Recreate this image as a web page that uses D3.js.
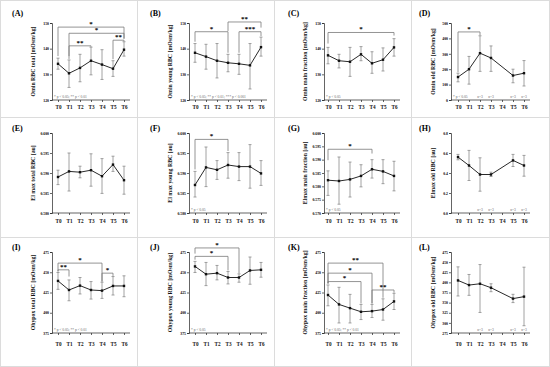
<!DOCTYPE html>
<html>
<head>
<meta charset="utf-8">
<script src="https://cdn.jsdelivr.net/npm/d3@7.9.0/dist/d3.min.js"></script>
<style>
  body { margin: 0; background: #fff; }
  svg { display: block; }
  text { font-family: "Liberation Serif", "DejaVu Serif", serif; }
</style>
</head>
<body>
<svg id="chart" width="550" height="367"></svg>
<script>
const times = ['T0', 'T1', 'T2', 'T3', 'T4', 'T5', 'T6'];

// (A) Omin total RBC
const aMean = [134.1, 130.4, 132.5, 135.3, 133.8, 132.2, 139.6];
const aHigh = [136.3, 135.6, 137.8, 140.6, 139.6, 135.3, 142.7];
const aLow  = [132.0, 124.9, 127.1, 129.8, 128.0, 129.2, 137.1];
// [from, to, bracket level, left leg end, right leg end, stars]
const aSig = [[0, 6, 148.4, 137.1, 143.9, '*'], [1, 6, 146.0, 137.1, 143.9, '*'], [1, 3, 141.1, 136.0, 140.8, '**'], [5, 6, 143.3, 135.9, 142.9, '**']];

// (B) Omin young RBC
const bMean = [138.4, 136.9, 135.3, 134.5, 134.1, 133.5, 140.6];
const bHigh = [142.0, 141.7, 142.0, 137.8, 137.8, 142.0, 144.5];
const bLow  = [134.7, 132.0, 128.6, 131.0, 130.0, 124.3, 137.1];
const bSig = [[0, 3, 146.6, 142.7, 138.4, '*'], [3, 6, 150.4, 146.9, 148.2, '**'], [4, 6, 146.6, 138.4, 144.9, '***']];

// (C) Omin main fraction
const cMean = [137.4, 135.3, 134.9, 137.8, 134.3, 135.7, 140.5];
const cHigh = [140.5, 137.8, 140.5, 140.8, 138.8, 140.3, 143.9];
const cLow  = [134.1, 132.5, 129.2, 135.3, 130.4, 131.3, 137.1];
const cSig = [[0, 6, 146.3, 142.0, 145.1, '*']];

// (D) Omin old RBC
const dMean = [149, 200, 304, 273, null, 159, 174];
const dHigh = [174, 283, 417, 351, null, 200, 256];
const dLow  = [118, 103, 186, 186, null, 112, 91];
const dSig = [[0, 2, 442, 180, 421, '*']];

// (E) El max total RBC
const eMean = [0.5890, 0.5904, 0.5902, 0.5907, 0.5892, 0.5921, 0.5882];
const eHigh = [0.5907, 0.5950, 0.5917, 0.5948, 0.5936, 0.5942, 0.5917];
const eLow  = [0.5871, 0.5855, 0.5888, 0.5867, 0.5849, 0.5904, 0.5847];

// (F) El max young RBC
const fMean = [0.5870, 0.5914, 0.5908, 0.5920, 0.5916, 0.5916, 0.5899];
const fHigh = [0.5904, 0.5965, 0.5931, 0.5951, 0.5951, 0.5971, 0.5931];
const fLow  = [0.5840, 0.5866, 0.5884, 0.5887, 0.5881, 0.5862, 0.5869];
const fSig = [[0, 3, 0.5984, 0.5909, 0.5955, '*']];

// (G) Elmax main fraction
const gMean = [0.5823, 0.5820, 0.5826, 0.5839, 0.5864, 0.5856, 0.5839];
const gHigh = [0.5858, 0.5910, 0.5891, 0.5881, 0.5900, 0.5900, 0.5894];
const gLow  = [0.5766, 0.5733, 0.5760, 0.5798, 0.5831, 0.5810, 0.5783];
const gSig = [[0, 4, 0.5939, 0.5898, 0.5923, '*']];

// (H) Elmax old RBC
const hMean = [0.559, 0.475, 0.385, 0.385, null, 0.526, 0.475];
const hHigh = [0.586, 0.626, 0.552, 0.408, null, 0.586, 0.576];
const hLow  = [0.532, 0.325, 0.218, 0.365, null, 0.465, 0.368];

// (I) Ohypox total RBC
const iMean = [439.3, 428.1, 433.5, 428.1, 427.3, 433.1, 433.1];
const iHigh = [449.7, 440.5, 443.5, 438.5, 437.7, 444.7, 445.6];
const iLow  = [428.9, 414.8, 423.2, 416.9, 417.7, 421.9, 419.8];
const iSig = [[0, 1, 453, 451, 444.7, '**'], [0, 4, 461.3, 451, 438.5, '*'], [4, 5, 448.9, 438.5, 445.5, '*']];

// (J) Ohypox young RBC
const jMean = [457.2, 447.6, 448.9, 443.5, 443.5, 452.2, 453.0];
const jHigh = [463.4, 462.1, 458.4, 450.9, 448.0, 468.8, 462.1];
const jLow  = [449.7, 433.5, 440.6, 435.6, 437.7, 435.2, 443.9];
const jSig = [[0, 3, 469.6, 465.5, 452.2, '*'], [0, 4, 480, 473, 448.9, '*']];

// (K) Ohypox main fraction
const kMean = [421.9, 410.3, 405.7, 401.2, 402.0, 404.0, 414.0];
const kHigh = [434.3, 431.4, 422.7, 410.3, 410.3, 417.2, 424.0];
const kLow  = [408.6, 387.4, 387.4, 391.6, 394.1, 390.8, 404.0];
const kSig = [[0, 3, 438.5, 435.6, 411.5, '*'], [0, 4, 448.9, 436.5, 411.5, '*'], [0, 5, 461.3, 436.5, 418.5, '**'], [4, 6, 428.1, 411.5, 424.8, '**']];

// (L) Ohypox old RBC
const lMean = [404.8, 393.4, 396.6, 386.8, null, 359.9, 364.8];
const lHigh = [438.3, 419.5, 444.0, 396.6, null, 370.5, 437.5];
const lLow  = [366.4, 368.0, 325.7, 377.0, null, 350.1, 293.0];

const oldN = ['', '', 'n=3', 'n=3', '', 'n=3', 'n=3'];

const omTicks = [120, 130, 140, 150];
const elTicks = [0.580, 0.585, 0.590, 0.595, 0.600];
const el2Ticks = [0.570, 0.575, 0.580, 0.585, 0.590, 0.595, 0.600];
const ohTicks = [375, 400, 425, 450, 475];

const note1 = '* p < 0.05';
const note2 = '* p < 0.05; ** p < 0.01';
const note3 = '* p < 0.05; ** p < 0.01; *** p < 0.001';

const panels = [
  { id: '(A)', title: 'Omin RBC total [mOsm/kg]', ticks: omTicks, fmt: 'd', mean: aMean, high: aHigh, low: aLow, sig: aSig, note: note2 },
  { id: '(B)', title: 'Omin young RBC [mOsm/kg]', ticks: omTicks, fmt: 'd', mean: bMean, high: bHigh, low: bLow, sig: bSig, note: note3 },
  { id: '(C)', title: 'Omin main fraction [mOsm/kg]', ticks: omTicks, fmt: 'd', mean: cMean, high: cHigh, low: cLow, sig: cSig, note: note1 },
  { id: '(D)', title: 'Omin old RBC [mOsm/kg]', ticks: [0, 100, 200, 300, 400, 500], fmt: 'd', mean: dMean, high: dHigh, low: dLow, sig: dSig, note: note1, n: oldN },
  { id: '(E)', title: 'El max total RBC [au]', ticks: elTicks, fmt: '.3f', mean: eMean, high: eHigh, low: eLow, sig: [], note: '' },
  { id: '(F)', title: 'El max young RBC [au]', ticks: elTicks, fmt: '.3f', mean: fMean, high: fHigh, low: fLow, sig: fSig, note: note1 },
  { id: '(G)', title: 'Elmax main fraction [au]', ticks: el2Ticks, fmt: '.3f', mean: gMean, high: gHigh, low: gLow, sig: gSig, note: note1 },
  { id: '(H)', title: 'Elmax old RBC [au]', ticks: [0, 0.2, 0.4, 0.6, 0.8], fmt: '.1f', mean: hMean, high: hHigh, low: hLow, sig: [], note: '', n: oldN },
  { id: '(I)', title: 'Ohypox total RBC [mOsm/kg]', ticks: ohTicks, fmt: 'd', mean: iMean, high: iHigh, low: iLow, sig: iSig, note: note2 },
  { id: '(J)', title: 'Ohypox young RBC [mOsm/kg]', ticks: ohTicks, fmt: 'd', mean: jMean, high: jHigh, low: jLow, sig: jSig, note: note1 },
  { id: '(K)', title: 'Ohypox main fraction [mOsm/kg]', ticks: ohTicks, fmt: 'd', mean: kMean, high: kHigh, low: kLow, sig: kSig, note: note2 },
  { id: '(L)', title: 'Ohypox old RBC [mOsm/kg]', ticks: d3.range(275, 476, 25), fmt: 'd', mean: lMean, high: lHigh, low: lLow, sig: [], note: '', n: oldN }
];

const svg = d3.select('#chart');

// cell frames
const colX = [0, 137, 274, 411, 550];
const rowY = [0, 117, 237, 367];
colX.forEach((cx) => {
  svg.append('line').attr('x1', Math.min(cx, 549) + 0.5).attr('x2', Math.min(cx, 549) + 0.5)
    .attr('y1', 0).attr('y2', 367).attr('stroke', '#dcdcdc').attr('stroke-width', 1);
});
rowY.forEach((ry) => {
  svg.append('line').attr('y1', Math.min(ry, 366) + 0.5).attr('y2', Math.min(ry, 366) + 0.5)
    .attr('x1', 0).attr('x2', 550).attr('stroke', '#dcdcdc').attr('stroke-width', 1);
});

// per column / row placement inside a cell
const colLayout = [
  { axis: 52, x0: 58, x1: 124, title: 35, label: 12 },
  { axis: 52, x0: 58, x1: 124, title: 35, label: 13 },
  { axis: 50, x0: 54, x1: 120, title: 33, label: 14 },
  { axis: 40, x0: 47, x1: 113, title: 24, label: 8 }
];
const rowLayout = [
  { top: 23, bottom: 100, tlab: 109, plab: 16 },
  { top: 16, bottom: 96, tlab: 106, plab: 14 },
  { top: 15, bottom: 96, tlab: 109, plab: 13 }
];

panels.forEach((p, k) => {
  const c = k % 4, r = Math.floor(k / 4);
  const L = colLayout[c], R = rowLayout[r];
  const g = svg.append('g').attr('transform', `translate(${colX[c]},${rowY[r]})`);

  let x = d3.scalePoint().domain(times).range([L.x0, L.x1]);
  let y = d3.scaleLinear().domain(d3.extent(p.ticks)).range([R.bottom, R.top]);

  // panel letter
  g.append('text').attr('x', L.label).attr('y', R.plab)
    .attr('font-size', 8).attr('font-weight', 'bold').text(p.id);

  // y axis
  const ya = g.append('g').attr('transform', `translate(${L.axis},0)`)
    .call(d3.axisLeft(y).tickValues(p.ticks).tickFormat(d3.format(p.fmt)).tickSize(2).tickPadding(1));
  ya.attr('font-family', null).attr('font-size', null);
  ya.selectAll('text').attr('font-size', 3.8).attr('font-weight', 'bold');
  ya.selectAll('path, line').attr('stroke', '#222').attr('stroke-width', 0.7);

  // x axis
  const xa = g.append('g').attr('transform', `translate(0,${R.bottom})`)
    .call(d3.axisBottom(x).tickSize(2).tickPadding(R.tlab - R.bottom - 6));
  xa.attr('font-family', null).attr('font-size', null);
  xa.select('.domain').remove();
  xa.append('line').attr('x1', L.axis).attr('x2', L.x1 + 6).attr('stroke', '#222').attr('stroke-width', 0.7);
  xa.selectAll('line').attr('stroke', '#222').attr('stroke-width', 0.7);
  xa.selectAll('.tick text').attr('font-size', 5.2).attr('font-weight', 'bold').attr('fill', '#111');

  // y title
  g.append('text')
    .attr('transform', `translate(${L.title},${(R.top + R.bottom) / 2}) rotate(-90)`)
    .attr('text-anchor', 'middle').attr('font-size', 5.8).attr('font-weight', 'bold')
    .attr('fill', '#111').text(p.title);

  // error bars
  const pts = times.map((t, i) => ({ t, m: p.mean[i], hi: p.high[i], lo: p.low[i] }))
    .filter((d) => d.m !== null);
  pts.forEach((d) => {
    const cx = x(d.t);
    g.append('line').attr('x1', cx).attr('x2', cx).attr('y1', y(d.hi)).attr('y2', y(d.lo))
      .attr('stroke', '#8a8a8a').attr('stroke-width', 0.8);
    [d.hi, d.lo].forEach((v) => {
      g.append('line').attr('x1', cx - 1.5).attr('x2', cx + 1.5).attr('y1', y(v)).attr('y2', y(v))
        .attr('stroke', '#8a8a8a').attr('stroke-width', 0.8);
    });
  });

  // mean line + markers
  const line = d3.line().x((d) => x(d.t)).y((d) => y(d.m));
  g.append('path').datum(pts).attr('d', line)
    .attr('fill', 'none').attr('stroke', '#111').attr('stroke-width', 0.9);
  g.selectAll('rect.pt').data(pts).join('rect').attr('class', 'pt')
    .attr('x', (d) => x(d.t) - 1.2).attr('y', (d) => y(d.m) - 1.2)
    .attr('width', 2.4).attr('height', 2.4).attr('fill', '#111');

  // significance brackets
  p.sig.forEach(([i, j, lev, le, re, s]) => {
    const x1 = x(times[i]), x2 = x(times[j]);
    g.append('path')
      .attr('d', `M${x1},${y(le)}V${y(lev)}H${x2}V${y(re)}`)
      .attr('fill', 'none').attr('stroke', '#7a7a7a').attr('stroke-width', 0.8);
    g.append('text').attr('x', (x1 + x2) / 2).attr('y', y(lev) - 1.2)
      .attr('text-anchor', 'middle').attr('font-size', 7).attr('font-weight', 'bold').text(s);
  });

  // p-value note
  if (p.note) {
    g.append('text').attr('x', L.axis + 2).attr('y', R.bottom - 2.5)
      .attr('font-size', 3.6).attr('fill', '#666').text(p.note);
  }
  // n labels for the old RBC panels
  if (p.n) {
    p.n.forEach((s, i) => {
      if (!s) return;
      g.append('text').attr('x', x(times[i])).attr('y', R.bottom - 2.5)
        .attr('text-anchor', 'middle').attr('font-size', 3.6).attr('fill', '#666').text(s);
    });
  }
});
</script>
</body>
</html>
